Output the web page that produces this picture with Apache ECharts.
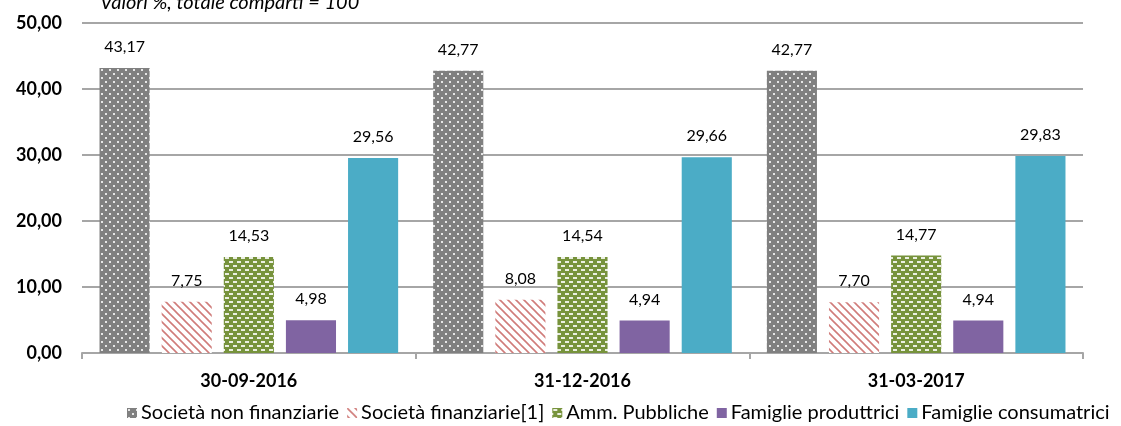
<!DOCTYPE html>
<html>
<head>
<meta charset="utf-8">
<script src="https://cdn.jsdelivr.net/npm/echarts@6/dist/echarts.min.js"></script>
<style>
    html, body { margin: 0; padding: 0; background: #fff; }
    #chart { width: 1121px; height: 426px; }
</style>
</head>
<body>
<div id="chart"></div>
<script>
const categories = ['30-09-2016', '31-12-2016', '31-03-2017'];
const seriesNames = ['Società non finanziarie', 'Società finanziarie[1]', 'Amm. Pubbliche', 'Famiglie produttrici', 'Famiglie consumatrici'];
const nonFinanziarie = [43.17, 42.77, 42.77];
const finanziarie = [7.75, 8.08, 7.70];
const ammPubbliche = [14.53, 14.54, 14.77];
const famProduttrici = [4.98, 4.94, 4.94];
const famConsumatrici = [29.56, 29.66, 29.83];
const yTicks = [0, 10, 20, 30, 40, 50];

const fontName = 'Lato, "Open Sans", sans-serif';

// small canvas tiles for the hatched fills
const makeTile = (size, draw) => {
    const c = document.createElement('canvas');
    c.width = size;
    c.height = size;
    draw(c.getContext('2d'));
    return c;
};

const dotTile = makeTile(8, ctx => {
    ctx.fillStyle = '#808080';
    ctx.fillRect(0, 0, 8, 8);
    ctx.fillStyle = 'rgba(255,255,255,0.8)';
    ctx.fillRect(1, 1, 2, 2);
    ctx.fillRect(5, 5, 2, 2);
});

const stripeTile = makeTile(8, ctx => {
    ctx.fillStyle = '#ffffff';
    ctx.fillRect(0, 0, 8, 8);
    ctx.strokeStyle = 'rgba(192,80,77,0.75)';
    ctx.lineWidth = 1.6;
    ctx.beginPath();
    ctx.moveTo(-2, -2); ctx.lineTo(10, 10);
    ctx.moveTo(-6, 2); ctx.lineTo(6, 14);
    ctx.moveTo(2, -6); ctx.lineTo(14, 6);
    ctx.stroke();
});

const dashTile = makeTile(8, ctx => {
    ctx.fillStyle = '#77933c';
    ctx.fillRect(0, 0, 8, 8);
    ctx.fillStyle = 'rgba(255,255,255,0.85)';
    ctx.fillRect(1, 1, 4, 2);
    ctx.fillRect(5, 5, 3, 2);
    ctx.fillRect(0, 5, 1, 2);
});

const fills = [
    { image: dotTile, repeat: 'repeat' },
    { image: stripeTile, repeat: 'repeat' },
    { image: dashTile, repeat: 'repeat' },
    '#8064a2',
    '#4bacc6'
];
const values = [nonFinanziarie, finanziarie, ammPubbliche, famProduttrici, famConsumatrici];

const fmt = v => v.toFixed(2).replace('.', ',');

const chart = echarts.init(document.getElementById('chart'));

const option = {
    backgroundColor: '#fff',
    animation: false,
    textStyle: { fontFamily: fontName },
    title: {
        text: 'Valori %, totale comparti = 100',
        left: 95,
        top: -12,
        textStyle: { fontFamily: fontName, fontStyle: 'italic', fontWeight: 'normal', fontSize: 20, color: '#000' }
    },
    legend: {
        bottom: 3,
        left: 127,
        padding: 0,
        itemWidth: 10,
        itemHeight: 10,
        itemGap: 8,
        icon: 'rect',
        textStyle: { fontFamily: fontName, fontSize: 20, color: '#000', padding: [0, 0, 0, -1] },
        data: seriesNames
    },
    grid: { left: 82, right: 38, top: 23, bottom: 73 },
    xAxis: {
        type: 'category',
        data: categories,
        axisLine: { lineStyle: { color: '#a6a6a6', width: 2 } },
        axisTick: { show: true, length: 6, lineStyle: { color: '#a6a6a6', width: 2 } },
        axisLabel: { fontFamily: fontName, fontWeight: 'bold', fontSize: 18, color: '#000', margin: 19 }
    },
    yAxis: {
        type: 'value',
        min: yTicks[0],
        max: yTicks[yTicks.length - 1],
        interval: 10,
        axisLine: { show: false },
        axisTick: { show: false },
        splitLine: { lineStyle: { color: '#a6a6a6', width: 2 } },
        axisLabel: {
            fontFamily: fontName, fontWeight: 'bold', fontSize: 18, color: '#000', margin: 20,
            formatter: v => fmt(v)
        }
    },
    series: seriesNames.map((name, i) => ({
        name: name,
        type: 'bar',
        data: values[i],
        barGap: '24%',
        barCategoryGap: '10.5%',
        itemStyle: { color: fills[i] },
        label: {
            show: true,
            position: 'top',
            distance: 13,
            fontFamily: fontName,
            fontSize: 16,
            color: '#000',
            formatter: p => fmt(p.value)
        }
    }))
};

chart.setOption(option);
</script>
</body>
</html>
